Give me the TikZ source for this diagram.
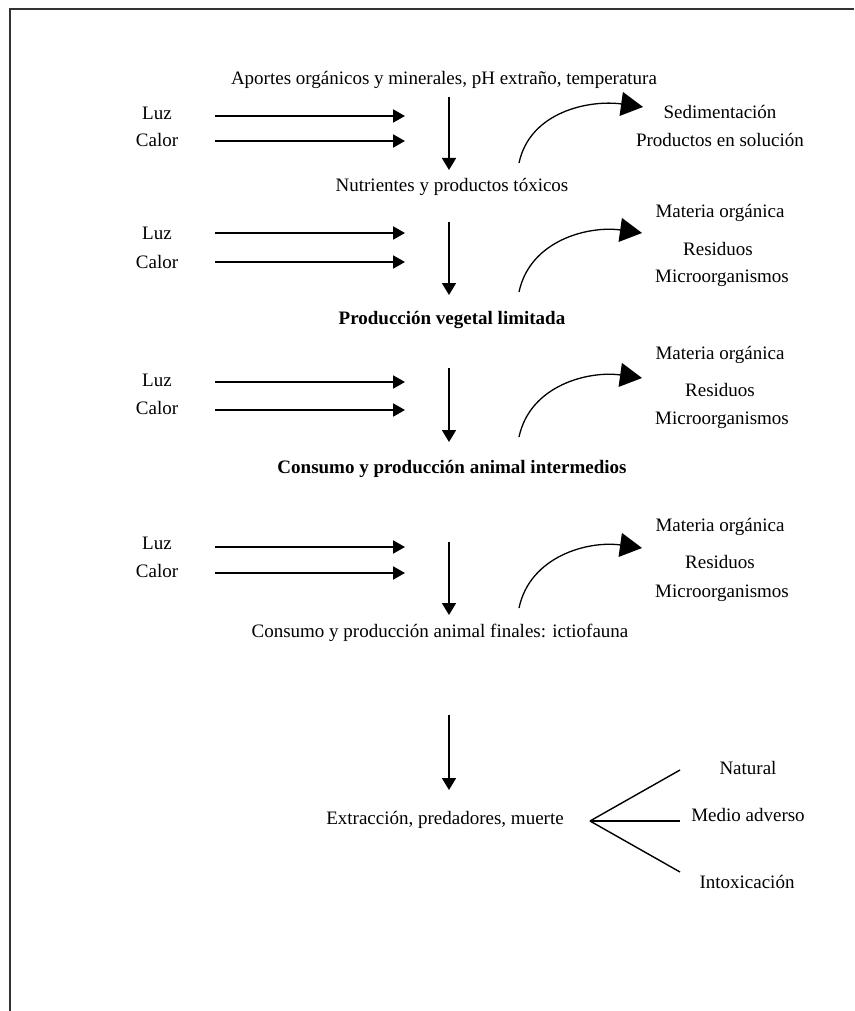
\documentclass[tikz,border=0pt]{standalone}
\usepackage{fontspec}
\setmainfont{Liberation Serif}
\usetikzlibrary{arrows.meta}
\begin{document}
\begin{tikzpicture}[x=1pt,y=-1pt,
  lbl/.style={inner sep=0pt,font=\fontsize{19}{22}\selectfont},
  blbl/.style={lbl,font=\fontsize{19}{22}\selectfont\bfseries},
  harrow/.style={line width=2pt,-{Triangle[length=12pt,width=13pt]}},
  varrow/.style={line width=1.8pt,-{Triangle[length=12pt,width=14pt]}},
  carrow/.style={line width=1.3pt,-{Triangle[length=22pt,width=24pt]}},
  fanline/.style={line width=1.4pt}]
\useasboundingbox (0,0) rectangle (854,1011);
\draw[line width=2pt,black!80] (854,9) -- (10,9) -- (10,1011);

% ---------- block 1
\node[lbl] (aportes) at (444,80) {Aportes orgánicos y minerales, pH extraño, temperatura};
\node[lbl] (luz1) at (157,113) {Luz};
\node[lbl] (calor1) at (157,140) {Calor};
\coordinate (luz1s) at (215,116); \coordinate (luz1e) at (405,116);
\coordinate (calor1s) at (215,141); \coordinate (calor1e) at (405,141);
\draw[harrow] (luz1s) -- (luz1e);
\draw[harrow] (calor1s) -- (calor1e);
\coordinate (v1s) at (449,97); \coordinate (v1e) at (449,170);
\draw[varrow] (v1s) -- (v1e);
\node[lbl] (nutr) at (452,187) {Nutrientes y productos tóxicos};
\node[lbl] (sed) at (720,112) {Sedimentación};
\node[lbl] (prod) at (720,140) {Productos en solución};
\coordinate (c1s) at (519,163); \coordinate (c1e) at (643,107);
\draw[carrow] (c1s) to[out=78,in=172] (c1e);

% ---------- block 2
\node[lbl] (luz2) at (157,233) {Luz};
\node[lbl] (calor2) at (157,262) {Calor};
\coordinate (luz2s) at (215,233); \coordinate (luz2e) at (405,233);
\coordinate (calor2s) at (215,262); \coordinate (calor2e) at (405,262);
\draw[harrow] (luz2s) -- (luz2e);
\draw[harrow] (calor2s) -- (calor2e);
\coordinate (v2s) at (449,222); \coordinate (v2e) at (449,295);
\draw[varrow] (v2s) -- (v2e);
\node[blbl] (veg) at (452,320) {Producción vegetal limitada};
\node[lbl] (mat2) at (720,213) {Materia orgánica};
\node[lbl] (res2) at (718,249) {Residuos};
\node[lbl] (mic2) at (722,278) {Microorganismos};
\coordinate (c2s) at (519,292); \coordinate (c2e) at (642,233);
\draw[carrow] (c2s) to[out=78,in=172] (c2e);

% ---------- block 3
\node[lbl] (luz3) at (157,380) {Luz};
\node[lbl] (calor3) at (157,408) {Calor};
\coordinate (luz3s) at (215,382); \coordinate (luz3e) at (405,382);
\coordinate (calor3s) at (215,410); \coordinate (calor3e) at (405,410);
\draw[harrow] (luz3s) -- (luz3e);
\draw[harrow] (calor3s) -- (calor3e);
\coordinate (v3s) at (449,368); \coordinate (v3e) at (449,442);
\draw[varrow] (v3s) -- (v3e);
\node[blbl] (inter) at (452,469) {Consumo y producción animal intermedios};
\node[lbl] (mat3) at (720,355) {Materia orgánica};
\node[lbl] (res3) at (720,390) {Residuos};
\node[lbl] (mic3) at (722,420) {Microorganismos};
\coordinate (c3s) at (519,437); \coordinate (c3e) at (642,378);
\draw[carrow] (c3s) to[out=78,in=172] (c3e);

% ---------- block 4
\node[lbl] (luz4) at (157,543) {Luz};
\node[lbl] (calor4) at (157,571) {Calor};
\coordinate (luz4s) at (215,547); \coordinate (luz4e) at (405,547);
\coordinate (calor4s) at (215,573); \coordinate (calor4e) at (405,573);
\draw[harrow] (luz4s) -- (luz4e);
\draw[harrow] (calor4s) -- (calor4e);
\coordinate (v4s) at (449,542); \coordinate (v4e) at (449,615);
\draw[varrow] (v4s) -- (v4e);
\node[lbl] (fin) at (440,633) {Consumo y producción animal finales: ictiofauna};
\node[lbl] (mat4) at (720,527) {Materia orgánica};
\node[lbl] (res4) at (720,562) {Residuos};
\node[lbl] (mic4) at (722,593) {Microorganismos};
\coordinate (c4s) at (519,608); \coordinate (c4e) at (642,548);
\draw[carrow] (c4s) to[out=78,in=172] (c4e);

% ---------- block 5
\coordinate (v5s) at (449,715); \coordinate (v5e) at (449,790);
\draw[varrow] (v5s) -- (v5e);
\node[lbl] (ext) at (445,820) {Extracción, predadores, muerte};
\coordinate (fan) at (590,821);
\coordinate (fanA) at (680,770);
\coordinate (fanB) at (680,821);
\coordinate (fanC) at (680,872);
\draw[fanline] (fan) -- (fanA);
\draw[fanline] (fan) -- (fanB);
\draw[fanline] (fan) -- (fanC);
\node[lbl] (nat) at (748,768) {Natural};
\node[lbl] (med) at (748,815) {Medio adverso};
\node[lbl] (intox) at (747,882) {Intoxicación};
\end{tikzpicture}
\end{document}
